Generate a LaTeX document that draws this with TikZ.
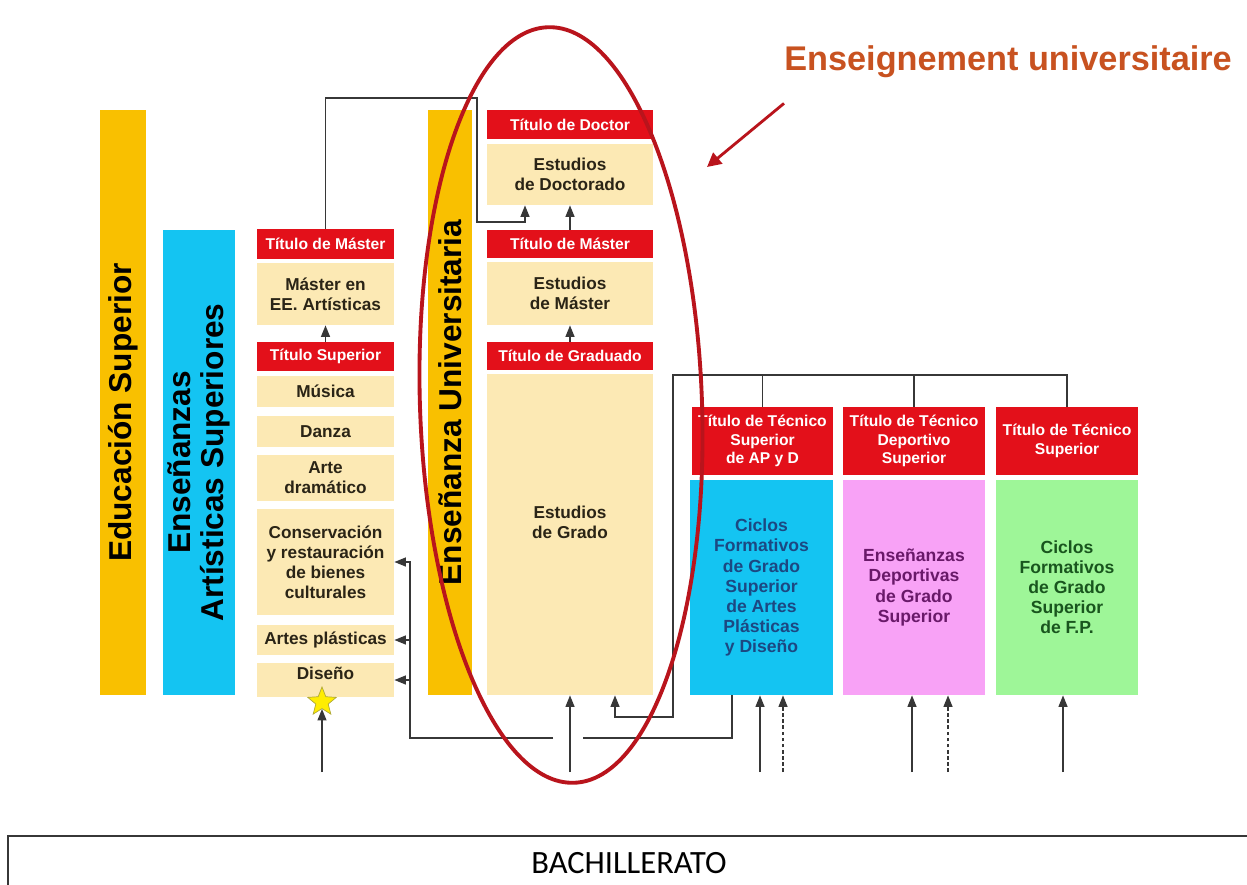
\documentclass[tikz,border=0pt]{standalone}
\usepackage{fontspec}
\setmainfont{Liberation Sans}
\newfontfamily\bachfont{Carlito}
\usetikzlibrary{arrows.meta, shapes.geometric}

\definecolor{titred}{RGB}{227,16,26}
\definecolor{beige}{RGB}{252,233,180}
\definecolor{beigetext}{RGB}{42,36,22}
\definecolor{baryellow}{RGB}{249,192,0}
\definecolor{barcyan}{RGB}{20,196,242}
\definecolor{deppink}{RGB}{248,162,246}
\definecolor{fpgreen}{RGB}{158,246,152}
\definecolor{ovalred}{RGB}{185,20,28}
\definecolor{linegray}{RGB}{55,55,55}
\definecolor{headorange}{RGB}{200,82,32}

\begin{document}
\begin{tikzpicture}[x=0.02cm, y=-0.02cm,
    cell/.style 2 args = {minimum width=#1*0.02cm, minimum height=#2*0.02cm},
    box/.style     = {inner sep=0pt, align=center},
    titulo/.style  = {box, fill=titred, text=white,
                      font=\bfseries\fontsize{8.9}{10.5}\selectfont},
    estudio/.style = {box, fill=beige, text=beigetext,
                      font=\bfseries\fontsize{9.8}{11.4}\selectfont},
    ciclo/.style   = {box, fill=#1, font=\bfseries\fontsize{10}{11.4}\selectfont},
    barra/.style   = {inner sep=0pt, fill=#1},
    bartext/.style = {rotate=90, align=center, text=black,
                      font=\bfseries\fontsize{18}{18.5}\selectfont},
    conn/.style    = {draw=linegray, line width=0.9pt},
    up/.style      = {conn, -{Triangle[width=5pt, length=6.5pt]}},
  ]
  \useasboundingbox (0,0) rectangle (1247,885);
  \fill[white] (0,0) rectangle (1247,885);

  % vertical bars
  \node[barra=baryellow, cell={46}{585},
        label={[bartext, xshift=-0.2cm]center:Educación Superior}] (edu) at (123,402.5) {};
  \node[barra=barcyan, cell={72}{465},
        label={[bartext]center:Enseñanzas\\Artísticas Superiores}] (art) at (199,462.5) {};
  \node[barra=baryellow, cell={44}{585},
        label={[bartext]center:Enseñanza Universitaria}] (uni) at (450,402.5) {};

  % artistic studies
  \node[titulo,  cell={137}{30}]  (tmA)  at (325.5,244)   {Título de Máster};
  \node[estudio, cell={137}{62}]  (meA)  at (325.5,294)   {Máster en\\EE. Artísticas};
  \node[titulo,  cell={137}{29}]  (tsup) at (325.5,356.5) {Título Superior};
  \node[estudio, cell={137}{31}]  (mus)  at (325.5,391.5) {Música};
  \node[estudio, cell={137}{31}]  (dan)  at (325.5,431.5) {Danza};
  \node[estudio, cell={137}{46}]  (arte) at (325.5,478)   {Arte\\dramático};
  \node[estudio, cell={137}{106}] (cons) at (325.5,562)
       {Conservación\\y restauración\\de bienes\\culturales};
  \node[estudio, cell={137}{30}]  (apl)  at (325.5,640)   {Artes plásticas};
  \node[estudio, cell={137}{34}, text depth=8pt] (dis) at (325.5,680) {Diseño};
  \node[star, star points=5, star point ratio=2.3, inner sep=0pt,
        minimum size=0.6cm, fill=yellow!95!orange, draw=olive!70,
        line width=0.4pt] (estrella) at (322,702) {};

  % university studies
  \node[titulo,  cell={166}{29}]  (tdoc)  at (570,124.5) {Título de Doctor};
  \node[estudio, cell={166}{61}]  (edoc)  at (570,174.5) {Estudios\\de Doctorado};
  \node[titulo,  cell={166}{28}]  (tmU)   at (570,244)   {Título de Máster};
  \node[estudio, cell={166}{63}]  (emU)   at (570,293.5) {Estudios\\de Máster};
  \node[titulo,  cell={166}{28}]  (tgrad) at (570,356)   {Título de Graduado};
  \node[estudio, cell={166}{321}, text depth=0.5cm] (egrad) at (570,534.5) {Estudios\\de Grado};

  % higher technical studies
  \node[titulo, cell={141}{68}] (ttA) at (762.5,441) {Título de Técnico\\Superior\\de AP y D};
  \node[titulo, cell={142}{68}] (ttB) at (914,441)   {Título de Técnico\\Deportivo\\Superior};
  \node[titulo, cell={142}{68}] (ttC) at (1067,441)  {Título de Técnico\\Superior};
  \node[ciclo=barcyan, text={rgb,255:red,28;green,72;blue,130},
        cell={143}{215}] (cA) at (761.5,587.5)
       {Ciclos\\Formativos\\de Grado\\Superior\\de Artes\\Plásticas\\y Diseño};
  \node[ciclo=deppink, text={rgb,255:red,105;green,25;blue,105},
        cell={142}{215}] (cB) at (914,587.5)
       {Enseñanzas\\Deportivas\\de Grado\\Superior};
  \node[ciclo=fpgreen, text={rgb,255:red,25;green,85;blue,30},
        cell={142}{215}] (cC) at (1067,587.5)
       {Ciclos\\Formativos\\de Grado\\Superior\\de F.P.};

  % connectors
  \coordinate (dA)  at (525,222);
  \coordinate (bus) at (673,375);
  \coordinate (g1)  at (615,717);
  \coordinate (r1)  at (732,738);
  \coordinate (r2)  at (583,738);
  \coordinate (l1)  at (553,738);
  \coordinate (l2)  at (410,738);
  \coordinate (inA) at (322,772);
  \coordinate (inU) at (570,772);

  \draw[up] (tmA.north) |- (477,98) |- (dA) -- (dA |- edoc.south);
  \draw[up] (tmU.north) -- (edoc.south);
  \draw[up] (tsup.north) -- (meA.south);
  \draw[up] (tgrad.north) -- (emU.south);
  \draw[up] (inA) -- (estrella.south);
  \draw[up] (inU) -- (egrad.south);

  \draw[conn] (ttA.north) -- (ttA.north |- bus);
  \draw[conn] (ttB.north) -- (ttB.north |- bus);
  \draw[up] (ttC.north) |- (bus) |- (g1) -- (g1 |- egrad.south);

  \draw[conn] (cA.south -| r1) -- (r1) -- (r2);
  \draw[up] (l1) -- (l2) |- (cons.east);
  \draw[up] (apl.east -| l2) -- (apl.east);
  \draw[up] (dis.east -| l2) -- (dis.east);

  \foreach \x in {760, 912, 1063}
    \draw[up] (\x,772) -- (\x,772 |- cA.south);
  \foreach \x in {783, 948}
    \draw[up, dash pattern=on 2pt off 1.5pt] (\x,772) -- (\x,772 |- cB.south);

  % university oval and caption
  \draw[ovalred, line width=2.2pt, rotate around={2:(561,405)}]
    (561,405) ellipse [x radius=141, y radius=378];
  \node[anchor=west, inner sep=0pt, text=headorange,
        font=\bfseries\fontsize{19.5}{20}\selectfont] (head) at (784,62)
       {Enseignement universitaire};
  \coordinate (pt) at (707,167);
  \draw[ovalred, line width=1.6pt, -{Triangle[width=8pt, length=8pt]}]
    ([yshift=-0.5cm]head.south west) -- (pt);

  % bachillerato
  \node[box, draw=linegray, line width=0.8pt, cell={1242}{54},
        font=\bachfont\mdseries\fontsize{18.5}{19}\selectfont] (bach) at (629,863) {BACHILLERATO};
\end{tikzpicture}
\end{document}
